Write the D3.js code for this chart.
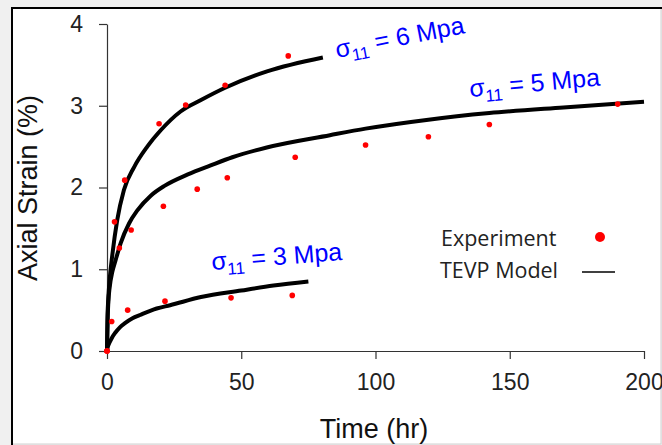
<!DOCTYPE html>
<html>
<head>
<meta charset="utf-8">
<script src="https://cdn.jsdelivr.net/npm/d3@7"></script>
<style>
  html, body { margin: 0; padding: 0; background: #f0f0f0; }
  svg { display: block; }
</style>
</head>
<body>
<div id="chart"></div>
<script>
'use strict';

// experimental points [time (hr), axial strain (%)]
var exp3 = [[0, 0], [1.75, 0.36], [7.7, 0.50], [21.6, 0.61], [46.2, 0.65], [69, 0.68]];
var exp5 = [[0, 0], [4.6, 1.26], [9, 1.48], [21, 1.77], [33.6, 1.98], [44.8, 2.12], [70.1, 2.37],
            [96.3, 2.52], [119.7, 2.62], [142.4, 2.77], [190.2, 3.02]];
var exp6 = [[0, 0], [2.8, 1.58], [6.6, 2.09], [19.4, 2.78], [29.3, 3.01], [44, 3.25], [67.5, 3.61]];

// TEVP model curves
var model3 = [[0, 0], [0.3, 0.05], [0.9, 0.10], [1.8, 0.16], [3, 0.22], [4.8, 0.29], [6.7, 0.34],
              [9.5, 0.40], [12.3, 0.44], [18.5, 0.52], [23.5, 0.56], [35, 0.66], [50, 0.74],
              [62, 0.80], [75, 0.85]];
var model5 = [[0, 0], [0.2, 0.35], [0.5, 0.60], [1, 0.78], [2, 0.97], [3.2, 1.11], [5.1, 1.32],
              [8.2, 1.56], [11.3, 1.72], [16.3, 1.90], [21.4, 2.02], [30.1, 2.16], [38.6, 2.27],
              [46.7, 2.37], [59.5, 2.49], [83, 2.64], [96.3, 2.72], [119.7, 2.83], [142.4, 2.91],
              [170, 2.98], [200, 3.05]];
var model6 = [[0, 0], [0.2, 0.42], [0.5, 0.65], [1, 0.88], [2, 1.18], [3.8, 1.60], [6.3, 1.97],
              [10.1, 2.25], [15, 2.50], [20, 2.70], [27.4, 2.93], [35, 3.07], [44, 3.22],
              [59.6, 3.42], [80.4, 3.59]];

var xTicks = [0, 50, 100, 150, 200];
var yTicks = [0, 1, 2, 3, 4];
var stressLabels = ['6', '5', '3'];
var legendLabels = ['Experiment', 'TEVP Model'];

var width = 662,
    height = 445;

var svg = d3.select('#chart').append('svg')
    .attr('width', width)
    .attr('height', height);

// white panel with the dark left/top frame
svg.append('rect')
    .attr('x', 12).attr('y', 8)
    .attr('width', 649).attr('height', 436)
    .style('fill', '#fff')
    .style('stroke', '#d0d0d0')
    .style('stroke-width', 1);
svg.append('path')
    .attr('d', 'M12,445V8H662')
    .style('fill', 'none')
    .style('stroke', '#000')
    .style('stroke-width', 2);

var x = d3.scaleLinear().domain([0, 200]).range([107, 644]);
var y = d3.scaleLinear().domain([0, 4]).range([351, 24]);

var xAxis = svg.append('g')
    .attr('transform', 'translate(0,' + y(0) + ')')
    .call(d3.axisBottom(x).tickValues(xTicks).tickSize(8).tickSizeOuter(0).tickPadding(15));

var yAxis = svg.append('g')
    .attr('transform', 'translate(' + x(0) + ',0)')
    .call(d3.axisLeft(y).tickValues(yTicks).tickFormat(d3.format('d'))
        .tickSize(8).tickSizeOuter(0).tickPadding(16));

[xAxis, yAxis].forEach(function (g) {
    g.selectAll('path, line').style('stroke', '#333').style('stroke-width', 1.2);
    g.selectAll('text')
        .style('font-family', '"Liberation Sans", Arial, sans-serif')
        .style('font-size', '23px')
        .style('fill', '#222');
});

// axis titles
svg.append('text')
    .attr('transform', 'translate(37,188) rotate(-90)')
    .style('text-anchor', 'middle')
    .style('font-family', '"Liberation Sans", Arial, sans-serif')
    .style('font-size', '27px')
    .style('fill', '#111')
    .text('Axial Strain (%)');

svg.append('text')
    .attr('x', 374).attr('y', 438)
    .style('text-anchor', 'middle')
    .style('font-family', '"Liberation Sans", Arial, sans-serif')
    .style('font-size', '27px')
    .style('fill', '#111')
    .text('Time (hr)');

// model curves
var line = d3.line()
    .x(function (d) { return x(d[0]); })
    .y(function (d) { return y(d[1]); })
    .curve(d3.curveMonotoneX);

[model3, model5, model6].forEach(function (m) {
    svg.append('path')
        .datum(m)
        .attr('d', line)
        .style('fill', 'none')
        .style('stroke', '#000')
        .style('stroke-width', 4);
});

// experiment points
[exp3, exp5, exp6].forEach(function (e) {
    svg.append('g').selectAll('circle')
        .data(e)
        .enter().append('circle')
        .attr('cx', function (d) { return x(d[0]); })
        .attr('cy', function (d) { return y(d[1]); })
        .attr('r', 2.8)
        .style('fill', '#ff0000');
});

// stress labels (sigma_11 = n Mpa), slightly tilted like the curves
var labelPos = [[337, 58, -11], [470, 97, -5], [212, 270, -4.4]];
stressLabels.forEach(function (s, i) {
    var p = labelPos[i];
    var t = svg.append('text')
        .attr('transform', 'translate(' + p[0] + ',' + p[1] + ') rotate(' + p[2] + ')')
        .style('font-family', '"Liberation Sans", Arial, sans-serif')
        .style('font-size', '25px')
        .style('fill', '#0000ff');
    t.append('tspan').text('σ');
    t.append('tspan').attr('dy', 6).style('font-size', '17px').text('11');
    t.append('tspan').attr('dy', -6).text(' = ' + s + ' Mpa');
});

// legend
var legendFont = '"Open Sans", "Liberation Sans", sans-serif';
svg.append('text')
    .attr('x', 441).attr('y', 246)
    .style('font-family', legendFont)
    .style('font-size', '21.5px')
    .style('fill', '#222')
    .text(legendLabels[0]);
svg.append('text')
    .attr('x', 440).attr('y', 278)
    .style('font-family', legendFont)
    .style('font-size', '21.5px')
    .style('fill', '#222')
    .text(legendLabels[1]);
svg.append('circle')
    .attr('cx', 600).attr('cy', 237)
    .attr('r', 5)
    .style('fill', '#ff0000');
svg.append('line')
    .attr('x1', 582).attr('x2', 615)
    .attr('y1', 272).attr('y2', 272)
    .style('stroke', '#000')
    .style('stroke-width', 1.5);
</script>
</body>
</html>
